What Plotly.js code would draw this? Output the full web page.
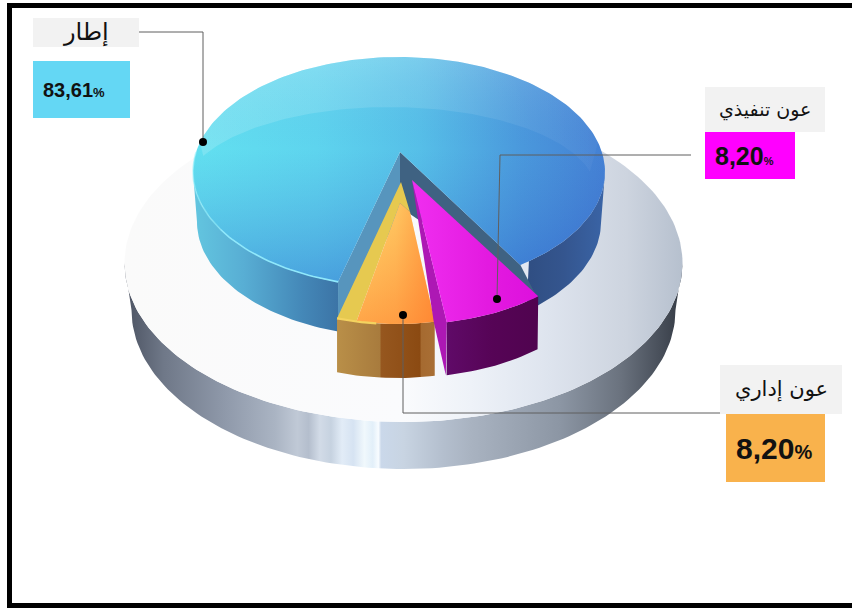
<!DOCTYPE html>
<html>
<head>
<meta charset="utf-8">
<script src="https://cdn.plot.ly/plotly-3.0.1.min.js"></script>
<style>html,body{margin:0;padding:0;background:#fff}#chart{width:852px;height:608px}</style>
</head>
<body>
<div id="chart"></div>
<script>
// Staff breakdown by grade
const categories = ['إطار', 'عون تنفيذي', 'عون إداري'];
const shares = [83.61, 8.20, 8.20];
const boxColors = ['#64d7f4', '#ff00ff', '#f9b24c'];

// Projection of the tilted disc onto the page
const deg = Math.PI / 180;
const firstAngle = 108;           // rim angle where the large slice begins
const disc = {cx: 399, cy: 172, rx: 206, ry: 115, depth: 50};
const discLow = {cx: 399, cy: 222, rx: 202, ry: 115};
const plate = {cx: 403.5, cy: 263, rx: 279, ry: 159};
const plateLow = {cx: 403.5, cy: 310, rx: 272, ry: 159};

const sweep = shares.map(s => s / 100 * 360);
const ranges = [
  {from: firstAngle - 0.8, to: firstAngle + sweep[0] + 4.9},
  {from: firstAngle + sweep[0], to: firstAngle + sweep[0] + sweep[1]},
  {from: firstAngle + sweep[0] + sweep[1], to: firstAngle + sweep[0] + sweep[1] + sweep[2]}
];

// Exploded slices: rim ellipse and apex relative to the disc centre
const magentaC = {cx: disc.cx + 8, cy: disc.cy + 37.5, rx: 200, ry: disc.ry};
const orangeC = {cx: disc.cx - 2.5, cy: disc.cy + 37, rx: 192, ry: disc.ry};
const blueApex = [disc.cx + 1, disc.cy - 20];
const magentaApex = [disc.cx + 13, disc.cy + 8];
const orangeApex = [disc.cx + 1, disc.cy + 31];
const orangeShoulder = [disc.cx + 11, disc.cy + 40];
const yellowApex = [disc.cx + 2, disc.cy + 10];

function pt(e, t, dy) {
  return [e.cx + e.rx * Math.cos(t * deg), e.cy + e.ry * Math.sin(t * deg) + (dy || 0)];
}
function arc(e, a, b, dy) {
  const out = [], n = Math.max(4, Math.ceil(Math.abs(b - a) / 1.5));
  for (let i = 0; i <= n; i++) out.push(pt(e, a + (b - a) * i / n, dy));
  return out;
}
const grad = (type, stops, start, stop) => ({type, start, stop, colorscale: stops});
const traces = [];
function poly(points, fillgradient, fillcolor) {
  const t = {
    type: 'scatter', mode: 'lines', fill: 'toself', hoverinfo: 'skip', showlegend: false,
    x: points.map(p => p[0]), y: points.map(p => p[1]), line: {width: 0, color: 'rgba(0,0,0,0)'}
  };
  if (fillgradient) t.fillgradient = fillgradient; else t.fillcolor = fillcolor;
  traces.push(t);
}
function stroke(points, color, width) {
  traces.push({
    type: 'scatter', mode: 'lines', hoverinfo: 'skip', showlegend: false,
    x: points.map(p => p[0]), y: points.map(p => p[1]), line: {color, width}
  });
}
const band = (top, low, a, b, d) => arc(top, a, b).concat(arc(low, b, a, d));

// Base plate: rim wall, then the top face
poly(band(plate, plateLow, 0, 180), grad('horizontal', [
  [0, '#4b5261'], [0.07, '#6f7888'], [0.18, '#8f99aa'], [0.27, '#aab4c3'], [0.31, '#c0c9d6'],
  [0.33, '#b4becd'], [0.35, '#d2dbe7'], [0.37, '#c6d2e0'], [0.39, '#e2ecf7'], [0.41, '#d6e3f2'],
  [0.43, '#f0f8fc'], [0.445, '#e2eff9'], [0.455, '#f8fcff'], [0.46, '#cad8ea'], [0.5, '#c8d4e2'],
  [0.57, '#b4bfce'], [0.62, '#a9b3c1'], [0.67, '#a0aab8'], [0.72, '#97a1af'], [0.78, '#8c96a4'],
  [0.89, '#6a727e'], [0.96, '#484f5a'], [1, '#343a44']
], plate.cx - plate.rx, plate.cx + plate.rx));
poly(arc(plate, 0, 360), grad('horizontal', [
  [0, '#fafafa'], [0.5, '#fafbfd'], [0.62, '#eef2f8'], [0.75, '#dfe5ef'], [0.9, '#cdd4df'], [1, '#b6c0ce']
], plate.cx - plate.rx, plate.cx + plate.rx));

// Large slice: outer wall on each side of the notch
const b = ranges[0];
poly(band(disc, discLow, 180, b.from), grad('horizontal', [
  [0, '#63c6e0'], [0.35, '#58aed4'], [0.75, '#4488b8'], [1, '#3c74a6']
], disc.cx - disc.rx, pt(disc, b.from)[0]));
poly(band(disc, discLow, b.to - 360 - 3, 0), grad('horizontal', [
  [0, '#2f4d80'], [0.5, '#34558e'], [1, '#3a64a6']
], pt(disc, b.to)[0], disc.cx + disc.rx));

// Large slice: notch walls
const bStart = pt(disc, b.from), bEnd = pt(disc, b.to);
poly([blueApex, bEnd, [bEnd[0] + 19, bEnd[1] + 37], [blueApex[0] + 10, blueApex[1] + 62], [blueApex[0], blueApex[1] + 60]], null, '#3f6282');
poly([blueApex, bStart, [bStart[0], bStart[1] + disc.depth + 5], [blueApex[0], blueApex[1] + 60]], null, '#5795bd');

// Large slice: top face with a cool horizontal ramp and a vertical shade
const bluePts = [blueApex].concat(arc(disc, b.from, b.to));
poly(bluePts, grad('horizontal', [
  [0, '#62e0f0'], [0.3, '#5ed4ee'], [0.55, '#56bfe8'], [0.8, '#4a98dc'], [1, '#4480d4']
], disc.cx - disc.rx, disc.cx + disc.rx));
poly(bluePts, grad('vertical', [
  [0, 'rgba(255,255,255,0.12)'], [0.4, 'rgba(60,110,200,0)'], [1, 'rgba(30,60,190,0.35)']
], disc.cy - disc.ry, disc.cy + disc.ry));

// Glassy sheen along the far edge of the top face
const sheen = {cx: disc.cx - 9, cy: disc.cy + 20, rx: 206, ry: 85};
poly(arc(disc, 195, 345).concat(arc(sheen, 346, 205)), grad('horizontal', [
  [0, 'rgba(255,255,255,0.16)'], [0.6, 'rgba(255,255,255,0.10)'], [1, 'rgba(255,255,255,0.03)']
], disc.cx - disc.rx, disc.cx + disc.rx));
stroke(arc(disc, b.from, 150), '#8fe8fb', 1.6);
stroke(arc(disc, 150, 190), 'rgba(150,240,252,0.55)', 1.6);

// Orange slice
const o = ranges[2];
const oL = pt(orangeC, o.to), oR = pt(orangeC, o.from);
poly(band(orangeC, orangeC, o.from, o.to, disc.depth + 4).map(p => p), grad('horizontal', [
  [0, '#b98f48'], [0.44, '#a87b3d'], [0.45, '#96571f'], [0.85, '#8b4a12'], [0.86, '#a56a30'], [1, '#a96f35']
], oL[0], oR[0]));
</script>
<script>
// (continued) the wall above uses an offset lower edge, so replace it with the shifted arc
traces.pop();
const orangeLow = {cx: orangeC.cx, cy: orangeC.cy + disc.depth + 4, rx: orangeC.rx, ry: orangeC.ry};
poly(band(orangeC, orangeLow, o.from, o.to), grad('horizontal', [
  [0, '#b98f48'], [0.44, '#a87b3d'], [0.45, '#96571f'], [0.85, '#8b4a12'], [0.86, '#a56a30'], [1, '#a96f35']
], oL[0], oR[0]));
const yellowIn = pt(orangeC, o.to - 6);
poly([yellowApex, oL, yellowIn, orangeApex, orangeShoulder], null, '#e6c950');
const orangeFace = [orangeApex, orangeShoulder].concat(arc(orangeC, o.from, o.to - 6));
poly(orangeFace, grad('vertical', [
  [0, '#ffd86e'], [0.6, '#ffbb58'], [1, '#ffa548']
], orangeApex[1], oL[1] + 6));
poly(orangeFace, grad('horizontal', [
  [0, 'rgba(255,120,40,0)'], [0.5, 'rgba(255,120,40,0.18)'], [1, 'rgba(255,120,40,0.65)']
], yellowIn[0], oR[0]));
stroke(arc(orangeC, o.to, o.to - 12), '#f4d35f', 2.2);

// Magenta slice
const m = ranges[1];
const mL = pt(magentaC, m.to), mR = pt(magentaC, m.from);
const magentaLow = {cx: magentaC.cx, cy: magentaC.cy + disc.depth + 3, rx: magentaC.rx - 1, ry: magentaC.ry};
poly([magentaApex, [mL[0] - 13, mL[1]], [mL[0] - 1, mL[1] + disc.depth + 3], mL], null, '#ad18b4');
poly(band(magentaC, magentaLow, m.from, m.to), grad('horizontal', [
  [0, '#600a68'], [0.5, '#560456'], [1, '#50044f']
], mL[0], mR[0]));
poly([magentaApex].concat(arc(magentaC, m.from, m.to)), grad('horizontal', [
  [0, '#f02ef0'], [0.6, '#e31ae0'], [1, '#dd10dd']
], magentaApex[0], mR[0]));

// Leader lines from each slice to its label
const leaders = [
  {x: [139, 203, 203], y: [32, 32, 142]},
  {x: [691, 500, 497], y: [155, 155, 299]},
  {x: [720, 403, 403], y: [413, 413, 315]}
];
leaders.forEach(l => {
  traces.push({
    type: 'scatter', mode: 'lines', hoverinfo: 'skip', showlegend: false,
    x: l.x, y: l.y, line: {color: '#5f5f5f', width: 1}
  });
  traces.push({
    type: 'scatter', mode: 'markers', hoverinfo: 'skip', showlegend: false,
    x: [l.x[2]], y: [l.y[2]], marker: {color: '#000', size: 8}
  });
});

// Label boxes: name on grey, share on the slice colour
const nameBoxes = [[33, 139, 18, 47], [705, 825, 87, 132], [720, 842, 365, 414]];
const valueBoxes = [[33, 130, 61, 118], [705, 795, 132, 179], [726, 825, 414, 482]];
const nameSize = [24, 19, 21];
const valueSize = [20, 25, 30];
const pctSize = [13, 11, 20];
const valueLeft = [41, 713, 734];
const rect = (r, fill) => ({type: 'rect', layer: 'below', xref: 'x', yref: 'y', x0: r[0], x1: r[1], y0: r[2], y1: r[3], fillcolor: fill, line: {width: 0}});
const shapes = [];
const annotations = [];
categories.forEach((c, i) => {
  shapes.push(rect(nameBoxes[i], '#f2f2f2'));
  shapes.push(rect(valueBoxes[i], boxColors[i]));
  annotations.push({
    xref: 'x', yref: 'y', showarrow: false, text: c,
    x: (nameBoxes[i][0] + nameBoxes[i][1]) / 2, y: (nameBoxes[i][2] + nameBoxes[i][3]) / 2,
    font: {family: 'DejaVu Sans', size: nameSize[i], color: '#111'}
  });
  annotations.push({
    xref: 'x', yref: 'y', showarrow: false, xanchor: 'left',
    text: '<b>' + shares[i].toFixed(2).replace('.', ',') + '<span style="font-size:' + pctSize[i] + 'px">%</span></b>',
    x: valueLeft[i], y: (valueBoxes[i][2] + valueBoxes[i][3]) / 2,
    font: {family: 'Liberation Sans', size: valueSize[i], color: '#111'}
  });
});

// Black frame, open past the right edge of the page
shapes.push({type: 'rect', layer: 'above', xref: 'x', yref: 'y', x0: 9.5, x1: 880, y0: 5.5, y1: 605.5, fillcolor: 'rgba(0,0,0,0)', line: {color: '#000', width: 5}});

const hiddenAxis = {visible: false, fixedrange: true, zeroline: false, showgrid: false};
Plotly.newPlot('chart', traces, {
  width: 852, height: 608, margin: {l: 0, r: 0, t: 0, b: 0},
  paper_bgcolor: '#fff', plot_bgcolor: '#fff', showlegend: false,
  xaxis: Object.assign({range: [0, 852]}, hiddenAxis),
  yaxis: Object.assign({range: [608, 0]}, hiddenAxis),
  shapes, annotations
}, {displayModeBar: false, staticPlot: true});
</script>
</body>
</html>
